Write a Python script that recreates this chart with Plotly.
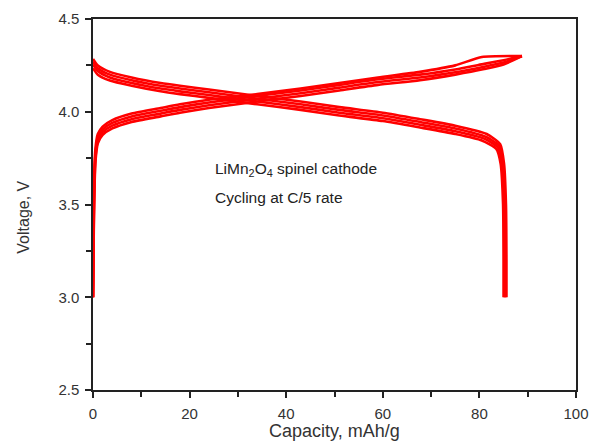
import plotly.graph_objects as go

# ---- data ----
charge_cap_a = [0, 0.2, 0.5, 1, 2, 4, 8, 14, 18, 24, 34, 43, 51, 59, 67.7, 75, 80.5, 88.8]
charge_v_a = [3.0, 3.6, 3.8, 3.88, 3.92, 3.955, 3.99, 4.02, 4.04, 4.065, 4.095, 4.125, 4.155, 4.185, 4.215, 4.25, 4.295, 4.3]

charge_cap_b = [0, 0.2, 0.5, 1, 2, 4, 8, 14, 18, 24, 34, 43, 51, 59, 67.7, 75, 81, 85, 88.8]
charge_v_b = [3.0, 3.55, 3.77, 3.86, 3.905, 3.94, 3.975, 4.005, 4.025, 4.05, 4.085, 4.115, 4.145, 4.175, 4.2, 4.228, 4.258, 4.278, 4.3]
charge_v_c = [3.0, 3.5, 3.75, 3.845, 3.89, 3.925, 3.96, 3.99, 4.01, 4.035, 4.07, 4.1, 4.13, 4.16, 4.185, 4.213, 4.243, 4.265, 4.3]
charge_v_d = [3.0, 3.45, 3.73, 3.83, 3.875, 3.91, 3.945, 3.975, 3.995, 4.02, 4.055, 4.085, 4.115, 4.145, 4.17, 4.2, 4.23, 4.255, 4.3]

dis_cap_a = [0, 1, 3.5, 8, 14, 18, 24, 34, 43, 51, 60, 67.7, 75, 81.5, 84.3, 85.1, 85.5, 85.6, 85.6]
dis_v_a = [4.285, 4.25, 4.215, 4.185, 4.155, 4.14, 4.12, 4.085, 4.055, 4.025, 3.995, 3.96, 3.925, 3.88, 3.825, 3.72, 3.5, 3.2, 3.0]
dis_cap_b = [0, 1, 3.5, 8, 14, 18, 24, 34, 43, 51, 60, 67.7, 75, 81.3, 84.1, 84.9, 85.3, 85.4, 85.4]
dis_v_b = [4.27, 4.235, 4.2, 4.17, 4.14, 4.125, 4.105, 4.07, 4.04, 4.01, 3.98, 3.945, 3.91, 3.865, 3.815, 3.72, 3.5, 3.2, 3.0]
dis_cap_c = [0, 1, 3.5, 8, 14, 18, 24, 34, 43, 51, 60, 67.7, 75, 81.0, 83.9, 84.7, 85.1, 85.2, 85.2]
dis_v_c = [4.255, 4.22, 4.185, 4.155, 4.125, 4.11, 4.09, 4.055, 4.025, 3.995, 3.965, 3.93, 3.895, 3.855, 3.805, 3.72, 3.5, 3.2, 3.0]
dis_cap_d = [0, 1, 3.5, 8, 14, 18, 24, 34, 43, 51, 60, 67.7, 75, 80.5, 83.5, 84.4, 84.9, 85.0, 85.0]
dis_v_d = [4.235, 4.2, 4.168, 4.14, 4.11, 4.095, 4.075, 4.04, 4.01, 3.98, 3.95, 3.915, 3.88, 3.845, 3.8, 3.72, 3.5, 3.2, 3.0]

x_ticks = [0, 20, 40, 60, 80, 100]
y_ticks = [2.5, 3.0, 3.5, 4.0, 4.5]

RED = "#ff0000"
FONT = "Liberation Sans, Arial"
fig = go.Figure()
for cx, cy in [(charge_cap_a, charge_v_a), (charge_cap_b, charge_v_b),
               (charge_cap_b, charge_v_c), (charge_cap_b, charge_v_d),
               (dis_cap_a, dis_v_a), (dis_cap_b, dis_v_b),
               (dis_cap_c, dis_v_c), (dis_cap_d, dis_v_d)]:
    fig.add_trace(go.Scatter(x=cx, y=cy, mode="lines",
                             line=dict(color=RED, width=2.6, shape="spline", smoothing=0.6),
                             showlegend=False, hoverinfo="skip"))

axis_common = dict(showgrid=False, zeroline=False, showline=True, linecolor="#222",
                   linewidth=1.5, mirror=True, ticks="outside", ticklen=6,
                   tickwidth=1.5, tickcolor="#222", ticklabelstandoff=3, automargin=False,
                   tickfont=dict(family=FONT, size=15, color="#333"))

fig.update_xaxes(range=[0, 100], tickvals=x_ticks,
                 minor=dict(dtick=10, ticks="outside", ticklen=5, tickwidth=1.5, tickcolor="#222"),
                 **axis_common)
fig.update_yaxes(range=[2.5, 4.5], tickvals=y_ticks, tickformat=".1f",
                 minor=dict(dtick=0.25, tick0=2.5, ticks="outside", ticklen=5, tickwidth=1.5, tickcolor="#222"),
                 **axis_common)

# axis titles
fig.add_annotation(x=0.5, y=-0.11, xref="paper", yref="paper", xanchor="center", yanchor="middle",
                   text="Capacity, mAh/g", showarrow=False,
                   font=dict(family=FONT, size=18, color="#333"))
fig.add_annotation(x=-0.143, y=0.467, xref="paper", yref="paper", xanchor="center", yanchor="middle",
                   text="Voltage, V", showarrow=False, textangle=-90,
                   font=dict(family=FONT, size=16, color="#333"))

fig.add_annotation(x=0.248, y=0.593, xref="paper", yref="paper", xanchor="left", yanchor="middle",
                   text="LiMn<sub>2</sub>O<sub>4</sub> spinel cathode", showarrow=False,
                   font=dict(family=FONT, size=15.5, color="#222"))
fig.add_annotation(x=0.248, y=0.520, xref="paper", yref="paper", xanchor="left", yanchor="middle",
                   text="Cycling at C/5 rate", showarrow=False,
                   font=dict(family=FONT, size=15.5, color="#222"))

fig.update_layout(width=595, height=444, margin=dict(l=93, r=19, t=19, b=54, autoexpand=False),
                  plot_bgcolor="white", paper_bgcolor="white")

fig.write_html("out.html")
